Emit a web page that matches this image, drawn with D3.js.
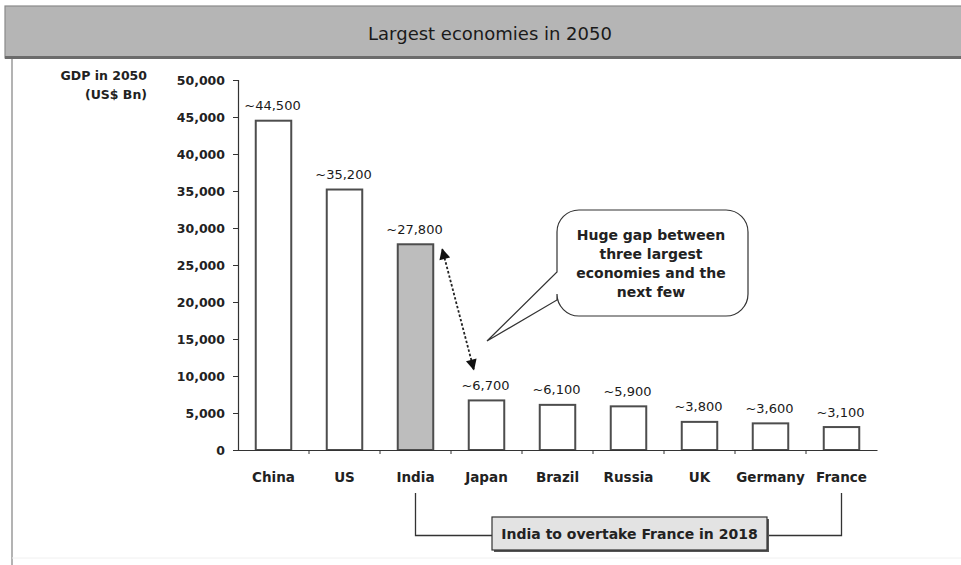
<!DOCTYPE html>
<html>
<head>
<meta charset="utf-8">
<script src="https://cdn.jsdelivr.net/npm/d3@7"></script>
<style>
  body { margin: 0; background: #fff; }
  svg { display: block; font-family: "DejaVu Sans", "Liberation Sans", sans-serif; }
</style>
</head>
<body>
<svg id="chart" width="961" height="565"></svg>
<script>
// ---- data ----
const countries = ["China", "US", "India", "Japan", "Brazil", "Russia", "UK", "Germany", "France"];
const gdp2050 = [44500, 35200, 27800, 6700, 6100, 5900, 3800, 3600, 3100];
const highlighted = ["India"];
const yTicks = [0, 5000, 10000, 15000, 20000, 25000, 30000, 35000, 40000, 45000, 50000];
const yDomain = [0, 50000];
const chartTitle = "Largest economies in 2050";
const axisTitleLines = ["GDP in 2050", "(US$ Bn)"];
const calloutLines = ["Huge gap between", "three largest", "economies and the", "next few"];
const gapPair = ["India", "Japan"];
const bracketPair = ["India", "France"];
const bracketText = "India to overtake France in 2018";

const rows = countries.map((c, i) => ({ country: c, value: gdp2050[i] }));
const fmt = d3.format(",");

const svg = d3.select("#chart");

// ---- frame and title bar ----
svg.append("line")
  .attr("x1", 12).attr("x2", 12).attr("y1", 58).attr("y2", 565)
  .attr("stroke", "#b3b3b3").attr("stroke-width", 2);
svg.append("line")
  .attr("x1", 12).attr("x2", 961).attr("y1", 558).attr("y2", 558)
  .attr("stroke", "#f0f0f0").attr("stroke-width", 1);

svg.append("rect")
  .attr("x", 5).attr("y", 6).attr("width", 970).attr("height", 52)
  .attr("fill", "#b5b5b5").attr("stroke", "#8a8a8a").attr("stroke-width", 1.2);
svg.append("line")
  .attr("x1", 5).attr("x2", 961).attr("y1", 57.5).attr("y2", 57.5)
  .attr("stroke", "#6b6b6b").attr("stroke-width", 3);
svg.append("text")
  .attr("x", 490).attr("y", 33)
  .attr("text-anchor", "middle").attr("dominant-baseline", "central")
  .attr("font-size", 18).attr("fill", "#1a1a1a")
  .text(chartTitle);

// ---- scales ----
const x = d3.scaleBand().domain(countries).range([238, 877])
  .paddingInner(0.5).paddingOuter(0.25);
const y = d3.scaleLinear().domain(yDomain).range([450, 80]);
const bw = x.bandwidth();
const cx = c => x(c) + bw / 2;

// ---- y axis ----
const yAxis = svg.append("g")
  .attr("transform", "translate(238,0)")
  .call(d3.axisLeft(y).tickValues(yTicks).tickSize(5).tickPadding(8).tickFormat(fmt));
yAxis.select(".domain").attr("stroke", "#333").attr("stroke-width", 1.2);
yAxis.selectAll(".tick line").attr("stroke", "#333");
yAxis.selectAll(".tick text")
  .attr("font-family", "DejaVu Sans, sans-serif")
  .attr("font-size", 12.5).attr("font-weight", "bold").attr("fill", "#222");

svg.append("g").selectAll("text").data(axisTitleLines).join("text")
  .attr("x", 147).attr("y", (d, i) => 75 + i * 19)
  .attr("text-anchor", "end").attr("dominant-baseline", "central")
  .attr("font-size", 12.5).attr("font-weight", "bold").attr("fill", "#222")
  .text(d => d);

// ---- bars ----
svg.append("g").selectAll("rect").data(rows).join("rect")
  .attr("x", d => x(d.country))
  .attr("y", d => y(d.value))
  .attr("width", bw)
  .attr("height", d => y(0) - y(d.value))
  .attr("fill", d => highlighted.includes(d.country) ? "#bdbdbd" : "#fff")
  .attr("stroke", "#4d4d4d").attr("stroke-width", 2);

// value labels
svg.append("g").selectAll("text").data(rows).join("text")
  .attr("x", d => cx(d.country) - 1)
  .attr("y", d => y(d.value) - 15)
  .attr("text-anchor", "middle").attr("dominant-baseline", "central")
  .attr("font-size", 13).attr("fill", "#1a1a1a")
  .text(d => "~" + fmt(d.value));

// ---- x axis ----
const xAxis = svg.append("g")
  .attr("transform", "translate(0,450)")
  .call(d3.axisBottom(x).tickSize(0).tickPadding(22));
xAxis.select(".domain").attr("stroke", "#333").attr("stroke-width", 1.2);
xAxis.selectAll(".tick text")
  .attr("font-family", "DejaVu Sans, sans-serif")
  .attr("font-size", 13.5).attr("font-weight", "bold").attr("fill", "#222");
// category separators
const step = x.step();
const boundaries = countries.slice(0, -1).map(c => x(c) + bw + step * 0.25);
xAxis.selectAll("line.sep").data(boundaries).join("line")
  .attr("class", "sep")
  .attr("x1", d => d).attr("x2", d => d).attr("y1", 0).attr("y2", 4)
  .attr("stroke", "#333");

// ---- arrow markers ----
const defs = svg.append("defs");
["start", "end"].forEach(kind => {
  defs.append("marker")
    .attr("id", "arrow-" + kind)
    .attr("viewBox", "0 0 10 10")
    .attr("refX", kind === "end" ? 9 : 1).attr("refY", 5)
    .attr("markerWidth", 12).attr("markerHeight", 11)
    .attr("markerUnits", "userSpaceOnUse")
    .attr("orient", "auto")
    .append("path")
    .attr("d", kind === "end" ? "M0,0 L10,5 L0,10 Z" : "M10,0 L0,5 L10,10 Z")
    .attr("fill", "#111");
});

// double-headed gap arrow between the two groups
const [gA, gB] = gapPair.map(c => rows.find(r => r.country === c));
svg.append("line")
  .attr("x1", x(gA.country) + bw + 9).attr("y1", y(gA.value) + 5)
  .attr("x2", x(gB.country) + 5).attr("y2", y(gB.value) - 31)
  .attr("stroke", "#222").attr("stroke-width", 1.8)
  .attr("stroke-dasharray", "2.5,2")
  .attr("marker-start", "url(#arrow-start)")
  .attr("marker-end", "url(#arrow-end)");

// ---- callout bubble ----
const cb = { x0: 557, x1: 748, y0: 210, y1: 316, r: 22 };
const tail = { ya: 272, yb: 300, tx: 487, ty: 341 };
const p = d3.path();
p.moveTo(cb.x0 + cb.r, cb.y0);
p.lineTo(cb.x1 - cb.r, cb.y0);
p.arcTo(cb.x1, cb.y0, cb.x1, cb.y0 + cb.r, cb.r);
p.lineTo(cb.x1, cb.y1 - cb.r);
p.arcTo(cb.x1, cb.y1, cb.x1 - cb.r, cb.y1, cb.r);
p.lineTo(cb.x0 + cb.r, cb.y1);
p.arcTo(cb.x0, cb.y1, cb.x0, cb.y1 - cb.r, cb.r);
p.lineTo(cb.x0, tail.yb);
p.lineTo(tail.tx, tail.ty);
p.lineTo(cb.x0, tail.ya);
p.lineTo(cb.x0, cb.y0 + cb.r);
p.arcTo(cb.x0, cb.y0, cb.x0 + cb.r, cb.y0, cb.r);
p.closePath();
svg.append("path").attr("d", p.toString())
  .attr("fill", "#fff").attr("stroke", "#333").attr("stroke-width", 1.2);
svg.append("g").selectAll("text").data(calloutLines).join("text")
  .attr("x", 651).attr("y", (d, i) => 235 + i * 19)
  .attr("text-anchor", "middle").attr("dominant-baseline", "central")
  .attr("font-size", 14).attr("font-weight", "bold").attr("fill", "#222")
  .text(d => d);

// ---- bottom bracket ----
const bx0 = cx(bracketPair[0]), bx1 = cx(bracketPair[1]);
const box = { x0: 492, x1: 767, y0: 517, y1: 550 };
const by = (box.y0 + box.y1) / 2 + 2;
svg.append("path")
  .attr("d", `M${bx0},493 V${by} H${box.x0} M${box.x1},${by} H${bx1} V493`)
  .attr("fill", "none").attr("stroke", "#333").attr("stroke-width", 1.3);
svg.append("rect")
  .attr("x", box.x0 + 2).attr("y", box.y0 + 2)
  .attr("width", box.x1 - box.x0).attr("height", box.y1 - box.y0)
  .attr("fill", "#555");
svg.append("rect")
  .attr("x", box.x0).attr("y", box.y0)
  .attr("width", box.x1 - box.x0).attr("height", box.y1 - box.y0)
  .attr("fill", "#e3e3e3").attr("stroke", "#333").attr("stroke-width", 1.2);
svg.append("text")
  .attr("x", (box.x0 + box.x1) / 2).attr("y", (box.y0 + box.y1) / 2)
  .attr("text-anchor", "middle").attr("dominant-baseline", "central")
  .attr("font-size", 14).attr("font-weight", "bold").attr("fill", "#222")
  .text(bracketText);
</script>
</body>
</html>
